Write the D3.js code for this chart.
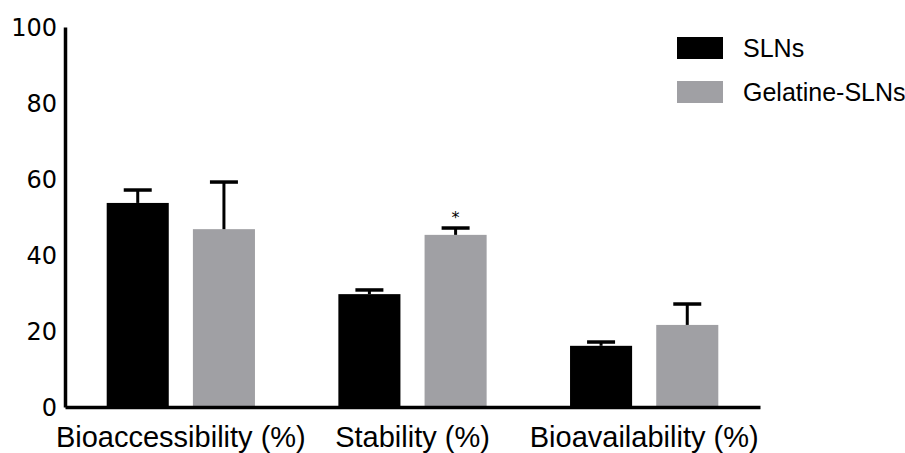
<!DOCTYPE html>
<html>
<head>
<meta charset="utf-8">
<script src="https://cdn.jsdelivr.net/npm/d3@7"></script>
<style>
  body { margin: 0; background: #fff; }
  text { fill: #000; }
</style>
</head>
<body>
<div id="chart"></div>
<script>
// values
var categories = ["Bioaccessibility (%)", "Stability (%)", "Bioavailability (%)"];
var series = ["SLNs", "Gelatine-SLNs"];
var slnsMean = [53.7, 29.7, 16.1];
var slnsErr = [3.4, 1.1, 1.0];
var gelMean = [46.8, 45.3, 21.6];
var gelErr = [12.4, 1.8, 5.5];
var signif = [false, true, false]; // asterisk over gelatine bar
var yTicks = [0, 20, 40, 60, 80, 100];

var colors = {"SLNs": "#000000", "Gelatine-SLNs": "#a0a0a4"};

var width = 905, height = 453;

var svg = d3.select("#chart")
    .append("svg")
    .attr("width", width)
    .attr("height", height);

var y = d3.scaleLinear().domain([0, 100]).range([407, 27]);

var x0 = d3.scaleBand()
    .domain(categories)
    .range([65, 760])
    .paddingInner(0.36)
    .paddingOuter(0.18);

var x1 = d3.scaleBand()
    .domain(series)
    .range([0, x0.bandwidth()])
    .paddingInner(0.28)
    .paddingOuter(0);

var rows = categories.map(function (c, i) {
    return [
        {cat: c, s: "SLNs", v: slnsMean[i], e: slnsErr[i], star: false},
        {cat: c, s: "Gelatine-SLNs", v: gelMean[i], e: gelErr[i], star: signif[i]}
    ];
});
var bars = [].concat.apply([], rows);

// bars
svg.append("g")
    .selectAll("rect")
    .data(bars)
    .enter()
    .append("rect")
    .attr("x", function (d) { return x0(d.cat) + x1(d.s); })
    .attr("y", function (d) { return y(d.v); })
    .attr("width", x1.bandwidth())
    .attr("height", function (d) { return y(0) - y(d.v); })
    .attr("fill", function (d) { return colors[d.s]; });

// error bars (upper only)
var eb = svg.append("g").selectAll("g")
    .data(bars)
    .enter()
    .append("g")
    .attr("transform", function (d) {
        return "translate(" + (x0(d.cat) + x1(d.s) + x1.bandwidth() / 2) + ",0)";
    });

eb.append("line")
    .attr("x1", 0).attr("x2", 0)
    .attr("y1", function (d) { return y(d.v); })
    .attr("y2", function (d) { return y(d.v + d.e); })
    .attr("stroke", "#000")
    .attr("stroke-width", 3);

eb.append("line")
    .attr("x1", -14).attr("x2", 14)
    .attr("y1", function (d) { return y(d.v + d.e); })
    .attr("y2", function (d) { return y(d.v + d.e); })
    .attr("stroke", "#000")
    .attr("stroke-width", 3.5);

eb.filter(function (d) { return d.star; })
    .append("text")
    .attr("x", 0)
    .attr("y", function (d) { return y(d.v + d.e) - 5; })
    .attr("text-anchor", "middle")
    .style("font-family", "DejaVu Sans")
    .style("font-size", "16px")
    .text("*");

// y axis
var yAxis = d3.axisLeft(y).tickValues(yTicks).tickSize(0).tickPadding(8);
var gy = svg.append("g")
    .attr("transform", "translate(65,0)")
    .call(yAxis);
gy.select(".domain").attr("stroke", "#000").attr("stroke-width", 3.5);
gy.selectAll(".tick text")
    .attr("dy", "0.36em")
    .style("font-family", "DejaVu Sans")
    .style("font-size", "24px");

// x axis
var xAxis = d3.axisBottom(x0).tickSize(0).tickPadding(19);
var gx = svg.append("g")
    .attr("transform", "translate(0,407)")
    .call(xAxis);
gx.select(".domain").attr("stroke", "#000").attr("stroke-width", 3.5);
gx.selectAll(".tick text")
    .style("font-family", "Liberation Sans Narrow, Liberation Sans, sans-serif")
    .style("font-size", "29px");

// legend
var legend = svg.append("g")
    .selectAll("g")
    .data(series)
    .enter()
    .append("g")
    .attr("transform", function (d, i) { return "translate(677," + (37 + i * 44) + ")"; });

legend.append("rect")
    .attr("width", 46)
    .attr("height", 22)
    .attr("fill", function (d) { return colors[d]; });

legend.append("text")
    .attr("x", 66)
    .attr("y", 11)
    .attr("dy", "0.36em")
    .style("font-family", "Liberation Sans Narrow, Liberation Sans, sans-serif")
    .style("font-size", "25px")
    .text(function (d) { return d; });
</script>
</body>
</html>
